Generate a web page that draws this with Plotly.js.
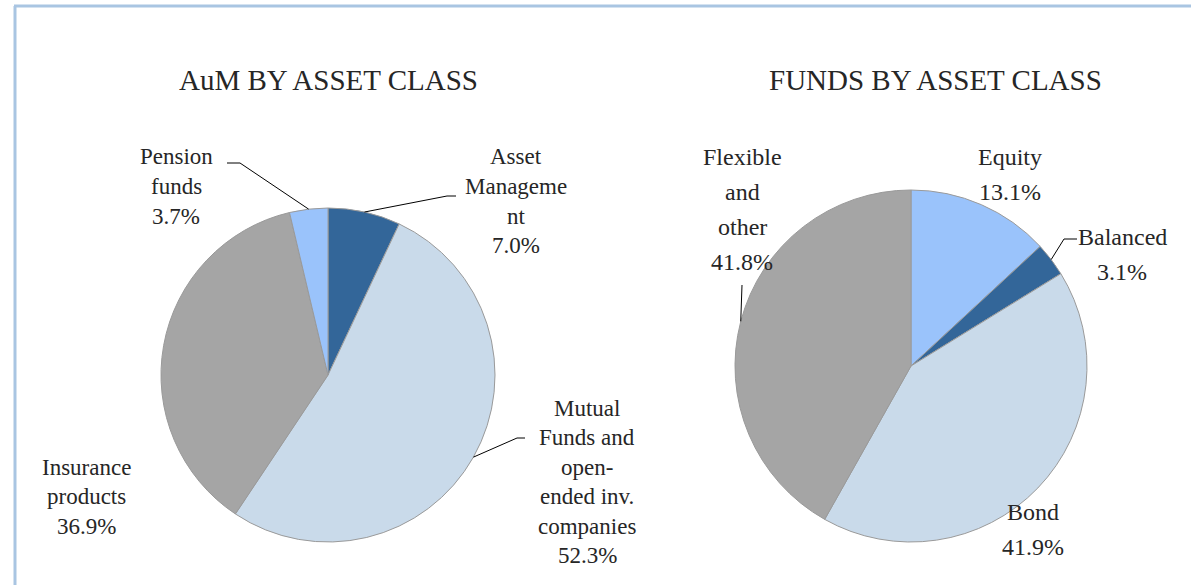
<!DOCTYPE html>
<html>
<head>
<meta charset="utf-8">
<script src="https://cdn.plot.ly/plotly-3.0.1.min.js"></script>
<style>html,body{margin:0;padding:0;background:#fff;}#chart{width:1191px;height:585px;}</style>
</head>
<body>
<div id="chart"></div>
<script>
// ---- data ----
const aumTitle = 'AuM BY ASSET CLASS';
const aumCategories = ['Asset Management', 'Mutual Funds and open-ended inv. companies', 'Insurance products', 'Pension funds'];
const aumLabelText = ['Asset<br>Manageme<br>nt', 'Mutual<br>Funds and<br>open-<br>ended inv.<br>companies', 'Insurance<br>products', 'Pension<br>funds'];
const aumValues = [7.0, 52.3, 36.9, 3.7];

const fundsTitle = 'FUNDS BY ASSET CLASS';
const fundsCategories = ['Equity', 'Balanced', 'Bond', 'Flexible and other'];
const fundsLabelText = ['Equity', 'Balanced', 'Bond', 'Flexible<br>and<br>other'];
const fundsValues = [13.1, 3.1, 41.9, 41.8];

// ---- styles / layout ----
const W = 1191, H = 585;
const FONT = 'Liberation Serif, serif';
const TXT = '#262626';
const aumColors = ['#336699', '#c9daea', '#a5a5a5', '#9ac3fb'];
const fundsColors = ['#9ac3fb', '#336699', '#c9daea', '#a5a5a5'];

const pies = [
  {title: aumTitle, cats: aumCategories, text: aumLabelText, vals: aumValues, colors: aumColors,
   cx: 328, cy: 375, r: 167, titleX: 328, titleY: 80, fs: 23, ls: 29.5,
   labelPos: [[516, 157], [587, 408], [86, 467], [176, 157]],
   elbows: [[[447, 196], [456, 196]], [[517, 438], [525, 438]], null, [[240, 163], [227, 163]]]},
  {title: fundsTitle, cats: fundsCategories, text: fundsLabelText, vals: fundsValues, colors: fundsColors,
   cx: 911, cy: 366, r: 176, titleX: 935, titleY: 80, fs: 24, ls: 35,
   labelPos: [[1010, 157], [1122, 237], [1033, 512], [742, 157]],
   elbows: [null, [[1064, 239], [1077, 239]], null, [[742, 285]]]}
];

const px = x => x / W;
const py = y => 1 - y / H;

const traces = [];
const annotations = [];
const shapes = [];

pies.forEach(p => {
  traces.push({
    type: 'pie', labels: p.cats, values: p.vals, sort: false, direction: 'clockwise', rotation: 0,
    marker: {colors: p.colors, line: {color: '#9a9a9a', width: 1}},
    textinfo: 'none', hoverinfo: 'label+percent', showlegend: false,
    domain: {x: [px(p.cx - p.r), px(p.cx + p.r)], y: [py(p.cy + p.r), py(p.cy - p.r)]}
  });
  annotations.push({
    text: p.title, xref: 'paper', yref: 'paper', x: px(p.titleX), y: py(p.titleY),
    xanchor: 'center', yanchor: 'middle', showarrow: false,
    font: {family: FONT, size: 29, color: TXT}
  });
  const total = p.vals.reduce((a, b) => a + b, 0);
  let cum = 0;
  p.vals.forEach((v, i) => {
    const lines = p.text[i].split('<br>').concat([v.toFixed(1) + '%']);
    const [lx, ly] = p.labelPos[i];
    lines.forEach((ln, k) => {
      annotations.push({
        text: ln, xref: 'paper', yref: 'paper', x: px(lx), y: py(ly + k * p.ls),
        xanchor: 'center', yanchor: 'middle', showarrow: false,
        font: {family: FONT, size: p.fs, color: TXT}
      });
    });
    // leader line from mid-slice edge point
    const mid = (cum + v / 2) / total * 2 * Math.PI;
    cum += v;
    if (p.elbows[i]) {
      const ex = p.cx + p.r * Math.sin(mid), ey = p.cy - p.r * Math.cos(mid);
      let path = 'M ' + px(ex) + ' ' + py(ey);
      p.elbows[i].forEach(pt => { path += ' L ' + px(pt[0]) + ' ' + py(pt[1]); });
      shapes.push({type: 'path', xref: 'paper', yref: 'paper', path: path, line: {color: '#000000', width: 1}});
    }
  });
});

// outer frame (top and left edges visible)
shapes.push({type: 'line', xref: 'paper', yref: 'paper', x0: px(14), x1: 1.01, y0: py(6), y1: py(6), line: {color: '#a9c5e2', width: 3}});
shapes.push({type: 'line', xref: 'paper', yref: 'paper', x0: px(15), x1: px(15), y0: py(6), y1: -0.01, line: {color: '#a9c5e2', width: 3}});

const layout = {
  width: W, height: H, margin: {l: 0, r: 0, t: 0, b: 0},
  paper_bgcolor: '#ffffff', plot_bgcolor: '#ffffff',
  annotations: annotations, shapes: shapes, showlegend: false
};

Plotly.newPlot('chart', traces, layout, {displayModeBar: false, staticPlot: true});
</script>
</body>
</html>
